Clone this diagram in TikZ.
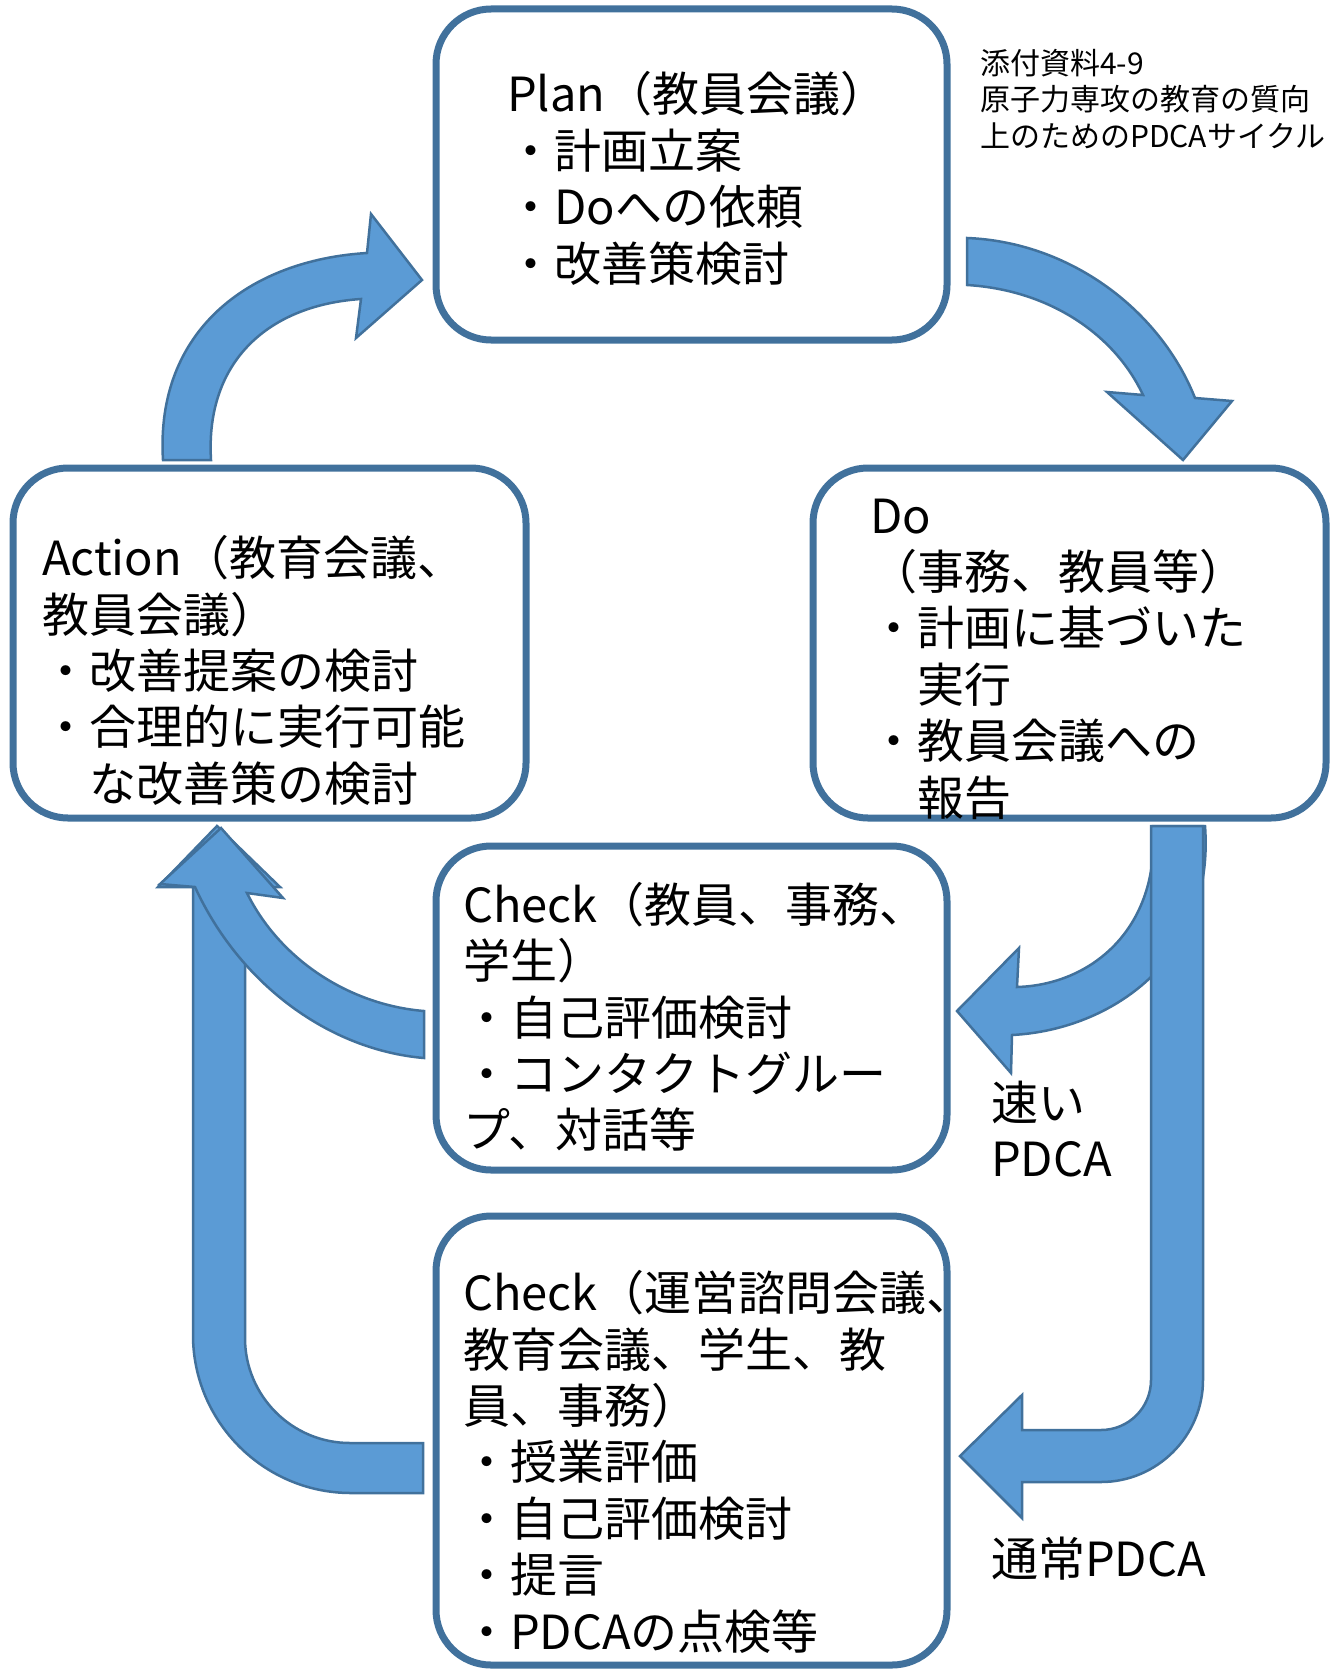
\documentclass[tikz,border=0pt]{standalone}
\usepackage{fontspec}
\setmainfont{Noto Sans CJK JP}
\newfontfamily\jpfont{Noto Sans CJK JP}
\definecolor{arrowfill}{RGB}{91,155,213}
\definecolor{edgeblue}{RGB}{65,113,156}
\newcommand\topstrut{\rule{0pt}{50pt}}
\newcommand\notestrut{\rule{0pt}{33pt}}
\begin{document}
\begin{tikzpicture}[x=1pt,y=-1pt,
  box/.style={draw=edgeblue, line width=7pt, rounded corners=55pt, fill=white, inner sep=0pt},
  bigarrow/.style={fill=arrowfill, draw=edgeblue, line width=2.5pt, line join=miter},
  txt/.style={anchor=north west, inner sep=0pt, align=left, font=\jpfont\fontsize{47}{56.4}\selectfont},
  notetxt/.style={anchor=north west, inner sep=0pt, align=left, font=\jpfont\fontsize{30}{36.5}\selectfont}]
\useasboundingbox (0,0) rectangle (1337,1672);

% boxes
\node[box, minimum width=511pt, minimum height=331pt] (plan) at (691.5,174.5) {};
\node[box, minimum width=513pt, minimum height=350pt] (do) at (1069.5,643) {};
\node[box, minimum width=513pt, minimum height=350pt] (action) at (269.5,643) {};
\node[box, minimum width=511pt, minimum height=324pt] (check1) at (691.5,1008) {};
\node[box, minimum width=511pt, minimum height=449pt] (check2) at (691.5,1440.5) {};

% arrow Plan -> Do
\draw[bigarrow] (967,238) .. controls (1070,242) and (1160,310) .. (1195,398)
  -- (1232,401) -- (1183,460) -- (1107,392) -- (1143,395)
  .. controls (1115,335) and (1050,290) .. (967,285) -- cycle;

% arrow Action -> Plan
\draw[bigarrow] (163,460) .. controls (155,330) and (250,260) .. (367,253)
  -- (371,214) -- (422,280) -- (356,338) -- (361,299)
  .. controls (270,305) and (205,360) .. (211,460) -- cycle;

% fast arrow Do -> Check1
\draw[bigarrow] (1153,826) -- (1205,826) .. controls (1215,960) and (1110,1030) .. (1012,1035)
  -- (1011,1073) -- (957,1011) -- (1019,948) -- (1017,987)
  .. controls (1090,985) and (1160,930) .. (1153,826) -- cycle;

% normal arrow Do -> Check2
\draw[bigarrow] (1151,826) -- (1203,826) -- (1203,1380)
  .. controls (1203,1436) and (1157,1482) .. (1101,1482)
  -- (1022,1482) -- (1022,1518) -- (960,1456) -- (1022,1395) -- (1022,1430)
  -- (1101,1430) .. controls (1128.6,1430) and (1151,1407.6) .. (1151,1380) -- cycle;

% normal arrow Check2 -> Action
\draw[bigarrow] (423,1443) -- (350,1443)
  .. controls (292,1443) and (245,1396) .. (245,1338)
  -- (245,887) -- (280,887) -- (217,826) -- (158,887) -- (193,887) -- (193,1335)
  .. controls (193,1422) and (264,1493) .. (351,1493) -- (423,1493) -- cycle;

% fast arrow Check1 -> Action
\draw[bigarrow] (424,1011) .. controls (350,1005) and (280,960) .. (247,893)
  -- (283,898) -- (221,828) -- (160,884) -- (195,887)
  .. controls (240,985) and (330,1050) .. (424,1058) -- cycle;

% texts
\node[txt] (plantext) at (507,61.6) {\topstrut Plan（教員会議）\\・計画立案\\・Doへの依頼\\・改善策検討};
\node[txt] (dotext) at (870,482.8) {\topstrut Do\\（事務、教員等）\\・計画に基づいた\\\phantom{・}実行\\・教員会議への\\\phantom{・}報告};
\node[txt] (actiontext) at (42,525.4) {\topstrut Action（教育会議、\\教員会議）\\・改善提案の検討\\・合理的に実行可能\\\phantom{・}な改善策の検討};
\node[txt] (check1text) at (463,872) {\topstrut Check（教員、事務、\\学生）\\・自己評価検討\\・コンタクトグルー\\プ、対話等};
\node[txt] (check2text) at (463,1260.4) {\topstrut Check（運営諮問会議、\\教育会議、学生、教\\員、事務）\\・授業評価\\・自己評価検討\\・提言\\・PDCAの点検等};
\node[txt] (fastlabel) at (991,1070) {\topstrut 速い\\PDCA};
\node[txt] (normallabel) at (991,1526) {\topstrut 通常PDCA};
\node[notetxt] (note) at (980,41) {\notestrut 添付資料4-9\\原子力専攻の教育の質向\\上のためのPDCAサイクル};
\end{tikzpicture}
\end{document}
